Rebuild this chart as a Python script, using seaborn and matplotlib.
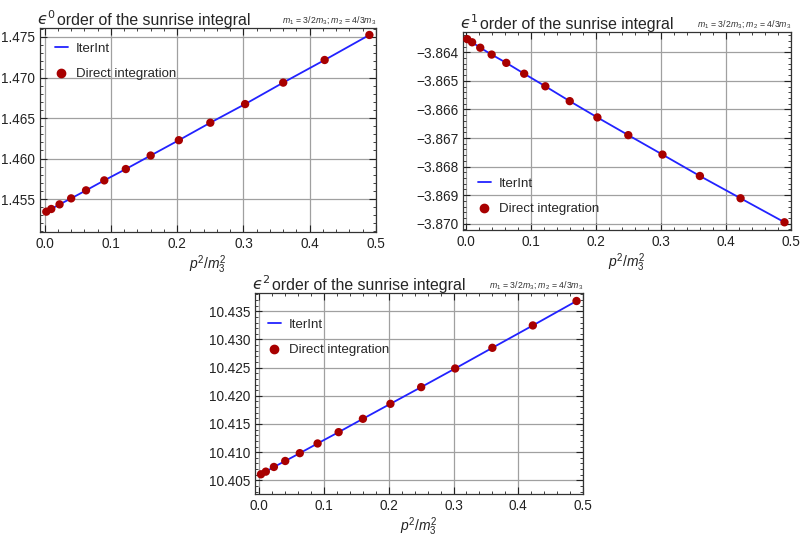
import matplotlib
matplotlib.use("Agg")
import matplotlib.pyplot as plt
from matplotlib.ticker import MultipleLocator, AutoMinorLocator, FuncFormatter
from matplotlib.lines import Line2D
import pandas as pd
import seaborn as sns

# p^2/m3^2 sample points
x_vals = [0.0025, 0.01, 0.0225, 0.04, 0.0625, 0.09, 0.1225, 0.16, 0.2025,
          0.25, 0.3025, 0.36, 0.4225, 0.49]

# eps^0 order
y0 = [1.45344, 1.45377, 1.45434, 1.45508, 1.45607, 1.45730, 1.45870, 1.46037,
      1.46226, 1.46442, 1.46672, 1.46937, 1.47216, 1.47525]
# eps^1 order
y1 = [-3.86354, -3.86365, -3.86384, -3.86408, -3.86437, -3.86475, -3.86519,
      -3.86571, -3.86628, -3.86690, -3.86758, -3.86833, -3.86911, -3.86995]
# eps^2 order
y2 = [10.40607, 10.40654, 10.40737, 10.40843, 10.40982, 10.41154, 10.41355,
      10.41592, 10.41858, 10.42154, 10.42485, 10.42852, 10.43249, 10.43683]

line_color = "#2222ff"
dot_color = "#a80000"

sns.set_style("ticks")
plt.rcParams["font.family"] = ["Liberation Sans", "DejaVu Sans"]
plt.rcParams["mathtext.fontset"] = "custom"
plt.rcParams["mathtext.it"] = "Liberation Sans:italic"
plt.rcParams["mathtext.rm"] = "Liberation Sans"

fig = plt.figure(figsize=(8.06, 5.58), dpi=100)
W, H = 806, 558


def make_ax(l, t, r, b):
    return fig.add_axes([l / W, 1 - b / H, (r - l) / W, (b - t) / H])


def fmt3(v, pos):
    return ("%.3f" % v).replace("-", "\u2212")


def fmt1(v, pos):
    return "%.1f" % v


panels = [
    dict(box=(40, 28, 376, 232), y=y0, order="0", xlim=(-0.007, 0.5),
         ylim=(1.45093, 1.47611), major=0.005, loc="upper left",
         anchor=(0, 1)),
    dict(box=(463, 32, 791, 230), y=y1, order="1", xlim=(-0.004, 0.5),
         ylim=(-3.87022, -3.86329), major=0.001, loc="lower left",
         anchor=(0, 0)),
    dict(box=(255, 293, 583, 494), y=y2, order="2", xlim=(-0.0067, 0.5),
         ylim=(10.40257, 10.43825), major=0.005, loc="upper left",
         anchor=(-0.005, 0.945)),
]

for p in panels:
    ax = make_ax(*p["box"])
    df = pd.DataFrame({"x": x_vals, "y": p["y"]})
    sns.lineplot(data=df, x="x", y="y", ax=ax, color=line_color, lw=1.3,
                 zorder=3)
    sns.scatterplot(data=df, x="x", y="y", ax=ax, color=dot_color, s=36,
                    edgecolor="none", zorder=4)
    ax.set_xlim(*p["xlim"])
    ax.set_ylim(*p["ylim"])
    ax.xaxis.set_major_locator(MultipleLocator(0.1))
    ax.xaxis.set_minor_locator(AutoMinorLocator(5))
    ax.yaxis.set_major_locator(MultipleLocator(p["major"]))
    ax.yaxis.set_minor_locator(AutoMinorLocator(5))
    ax.xaxis.set_major_formatter(FuncFormatter(fmt1))
    ax.yaxis.set_major_formatter(FuncFormatter(fmt3))
    ax.tick_params(which="both", direction="in", top=True, right=True,
                   labelsize=9.8, colors="#222222")
    ax.tick_params(which="major", length=5, width=0.8)
    ax.tick_params(which="minor", length=2.5, width=0.6)
    ax.grid(True, which="major", color="#a0a0a0", lw=0.9)
    for s in ax.spines.values():
        s.set_color("#333333")
        s.set_linewidth(0.9)
    ax.set_ylabel("")
    ax.set_xlabel(r"$p^2/m_3^2$", fontsize=10, labelpad=2, color="#222222")
    # lunate epsilon as in the original
    ax.text(-0.008, 1.0, "$\u03f5^{%s}$" % p["order"],
            transform=ax.transAxes, ha="left", va="bottom", fontsize=11.4,
            math_fontfamily="dejavusans")
    ax.text(0.052, 1.0, "order of the sunrise integral",
            transform=ax.transAxes, ha="left", va="bottom", fontsize=11.4)
    ax.text(1.0, 1.012, r"$m_1$ = 3/2$m_3$; $m_2$ = 4/3$m_3$",
            transform=ax.transAxes, ha="right", va="bottom", fontsize=6.3,
            color="#333333")
    handles = [Line2D([], [], color=line_color, lw=1.3),
               Line2D([], [], color=dot_color, marker="o", ls="none", ms=6)]
    ax.legend(handles, ["IterInt", "Direct integration"], loc=p["loc"],
              bbox_to_anchor=p["anchor"],
              frameon=False, fontsize=9.5, handlelength=1.0,
              labelspacing=1.0, handletextpad=0.6, borderaxespad=0.7)

fig.savefig("out.png", dpi=100)
